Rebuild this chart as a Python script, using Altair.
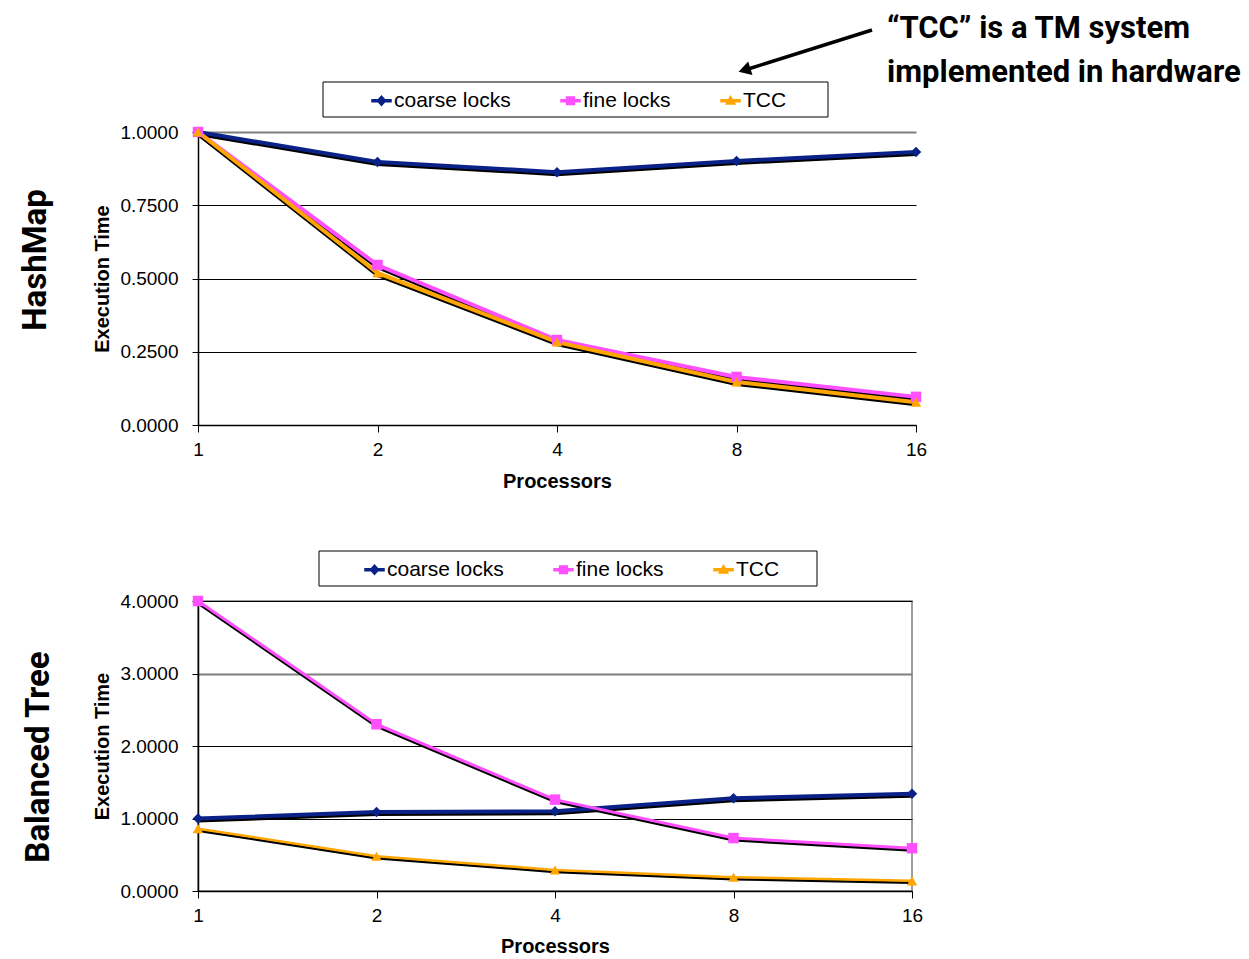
import altair as alt
import pandas as pd

processors = ["1", "2", "4", "8", "16"]
series_names = ["coarse locks", "fine locks", "TCC"]

hash_coarse = [1.0, 0.898, 0.863, 0.901, 0.932]
hash_fine = [1.0, 0.546, 0.290, 0.164, 0.096]
hash_tcc = [1.0, 0.519, 0.283, 0.147, 0.078]

tree_coarse = [1.0, 1.09, 1.10, 1.28, 1.34]
tree_fine = [4.0, 2.30, 1.26, 0.73, 0.59]
tree_tcc = [0.86, 0.48, 0.29, 0.19, 0.14]

hash_ticks = [0.0, 0.25, 0.5, 0.75, 1.0]
tree_ticks = [0.0, 1.0, 2.0, 3.0, 4.0]

colors = ["#0a2288", "#ff4fff", "#ffa500"]
marker_shapes = ["diamond", "square", "triangle-up"]
legend_paths = [
    "M-1,-0.17L1,-0.17L1,0.17L-1,0.17Z M0,-0.55L0.5,0L0,0.55L-0.5,0Z",
    "M-1,-0.17L1,-0.17L1,0.17L-1,0.17Z M-0.45,-0.45L0.45,-0.45L0.45,0.45L-0.45,0.45Z",
    "M-1,-0.17L1,-0.17L1,0.17L-1,0.17Z M0,-0.55L0.55,0.4L-0.55,0.4Z",
]

FONT = "Liberation Sans"
BIG = "Roboto"


def to_frame(coarse, fine, tcc):
    rows = []
    for name, vals in zip(series_names, [coarse, fine, tcc]):
        for p, v in zip(processors, vals):
            rows.append({"proc": p, "value": v, "series": name})
    return pd.DataFrame(rows)


def panel(df, ymax, ticks, gray_val, width, height, widths, box, legend_x,
          label_text, label_pos, x_title_pad, annotate=False, view_stroke=None):
    x_enc = alt.X(
        "proc:O", sort=processors,
        scale=alt.Scale(type="point", padding=0),
        axis=alt.Axis(title="Processors", labelAngle=0, labelFontSize=19,
                      titleFontSize=20, titleFontWeight="bold", tickSize=7,
                      tickColor="black", domainColor="black", domainWidth=1.5,
                      labelPadding=8, titlePadding=x_title_pad, grid=False,
                      labelColor="black", titleColor="black"),
    )
    y_enc = alt.Y(
        "value:Q",
        scale=alt.Scale(domain=[0, ymax], nice=False, zero=True),
        axis=alt.Axis(values=ticks, format=".4f", title="Execution Time",
                      labelFontSize=19, titleFontSize=20, titleFontWeight="bold",
                      tickSize=6, tickColor="black", domainColor="black",
                      domainWidth=1.5, labelPadding=14, titlePadding=7,
                      grid=True,
                      gridColor={"condition": {"test": f"datum.value === {gray_val}", "value": "#7f7f7f"}, "value": "black"},
                      gridWidth={"condition": {"test": f"datum.value === {gray_val}", "value": 2}, "value": 1},
                      labelColor="black", titleColor="black"),
    )

    one = pd.DataFrame({"k": [0]})

    box_layer = alt.Chart(one).mark_rect(fill="white", stroke="black", strokeWidth=1).encode(
        x=alt.value(box[0]), x2=alt.value(box[1]), y=alt.value(box[2]), y2=alt.value(box[3])
    )

    base = alt.Chart(df)
    layers = [box_layer]
    for name, w in zip(series_names, widths):
        layers.append(
            base.transform_filter(alt.datum.series == name)
            .mark_line(color="black", strokeWidth=w)
            .encode(x=x_enc, y=y_enc, yOffset=alt.value(2))
        )
    for name, w, c in zip(series_names, widths, colors):
        layers.append(
            base.transform_filter(alt.datum.series == name)
            .mark_line(color=c, strokeWidth=w)
            .encode(x=x_enc, y=y_enc)
        )
    for name, shp, c in zip(series_names, marker_shapes, colors):
        layers.append(
            base.transform_filter(alt.datum.series == name)
            .mark_point(filled=True, opacity=1, shape=shp, size=110, color=c)
            .encode(x=x_enc, y=y_enc)
        )
    leg = alt.Legend(title=None, orient="none", legendX=legend_x, legendY=-42,
                     direction="horizontal", labelFontSize=21, labelFont=FONT,
                     labelColor="black", columnPadding=49, labelOffset=2,
                     symbolSize=420, symbolStrokeWidth=0, padding=0, symbolOpacity=1)
    layers.append(
        base.transform_filter("false").mark_point(filled=True, opacity=1).encode(
            x=x_enc, y=y_enc,
            color=alt.Color("series:N", scale=alt.Scale(domain=series_names, range=colors), legend=leg),
            shape=alt.Shape("series:N", scale=alt.Scale(domain=series_names, range=legend_paths), legend=leg),
        )
    )
    layers.append(
        alt.Chart(one).mark_text(
            text=label_text, angle=270, align="center", baseline="middle",
            font=BIG, fontSize=33, fontWeight="bold", color="black"
        ).encode(x=alt.value(label_pos[0]), y=alt.value(label_pos[1]))
    )

    if annotate:
        for line, yy in [("\u201cTCC\u201d is a TM system", -94), ("implemented in hardware", -50)]:
            layers.append(
                alt.Chart(one).mark_text(
                    text=line, align="left", baseline="alphabetic",
                    font=BIG, fontSize=31, fontWeight="bold", color="black"
                ).encode(x=alt.value(689), y=alt.value(yy))
            )
        layers.append(
            alt.Chart(one).mark_rule(color="black", strokeWidth=3.5).encode(
                x=alt.value(674), y=alt.value(-102), x2=alt.value(547), y2=alt.value(-62)
            )
        )
        layers.append(
            alt.Chart(one).mark_point(
                shape="triangle-up", filled=True, opacity=1, color="black", size=200, angle=252.5
            ).encode(x=alt.value(546.5), y=alt.value(-62))
        )

    ch = alt.layer(*layers).properties(width=width, height=height)
    if view_stroke:
        ch = ch.properties(view=alt.ViewBackground(stroke=view_stroke, strokeWidth=1.5))
    return ch


top = panel(to_frame(hash_coarse, hash_fine, hash_tcc), 1.0, hash_ticks, 1, 718, 293,
            [4, 4, 4], (125, 630, -50, -15), 173, "HashMap", (-162, 128), 12, annotate=True)
bottom = panel(to_frame(tree_coarse, tree_fine, tree_tcc), 4.0, tree_ticks, 3, 714, 290,
               [4, 3, 2.5], (121, 619, -50, -15), 166, "Balanced Tree", (-159, 156), 11,
               view_stroke="#7f7f7f")

chart = alt.vconcat(top, bottom, spacing=58).resolve_scale(
    color="independent", shape="independent"
).resolve_legend(
    color="independent", shape="independent"
).properties(
    padding={"left": 12, "top": 5, "right": 0, "bottom": 0}
).configure(font=FONT).configure_view(stroke=None).configure_axis(
    labelFont=FONT, titleFont=FONT
)

chart.save("out.html", embed_options={"renderer": "svg", "actions": False})
